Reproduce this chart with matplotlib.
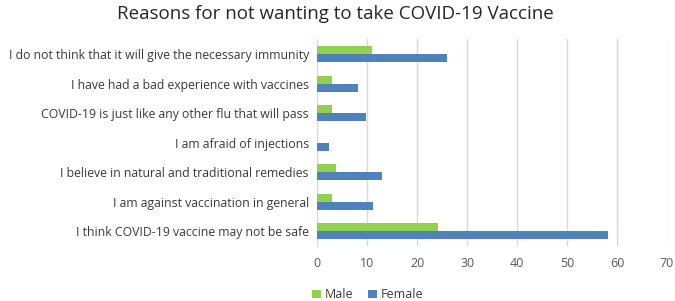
import matplotlib.pyplot as plt
import numpy as np

plt.rcParams['font.family'] = ['Open Sans', 'DejaVu Sans']

reasons = [
    'I think COVID-19 vaccine may not be safe',
    'I am against vaccination in general',
    'I believe in natural and traditional remedies',
    'I am afraid of injections',
    'COVID-19 is just like any other flu that will pass',
    'I have had a bad experience with vaccines',
    'I do not think that it will give the necessary immunity',
]
male = [24.2, 3.0, 3.7, 0.0, 3.0, 3.0, 10.9]
female = [58.2, 11.2, 12.9, 2.3, 9.7, 8.2, 26.0]
xticks = [0, 10, 20, 30, 40, 50, 60, 70]

green = '#92D050'
blue = '#4F81BD'
txt = '#595959'

fig = plt.figure(figsize=(6.75, 3.01), dpi=100)
ax = fig.add_axes([0.47, 0.183, 0.518, 0.686])

y = np.arange(len(reasons))
h = 0.27
ax.barh(y + h / 2, male, height=h, color=green, label='Male', zorder=3)
ax.barh(y - h / 2, female, height=h, color=blue, label='Female', zorder=3)

ax.set_xlim(0, 70)
ax.set_ylim(-0.5, len(reasons) - 0.5)
ax.set_xticks(xticks)
ax.set_yticks(y)
ax.set_yticklabels(reasons)
ax.tick_params(length=0, colors=txt, labelsize=9)
ax.tick_params(axis='y', labelcolor='#3A3A3A', labelsize=8.8, pad=6)
ax.tick_params(axis='x', pad=8)
ax.grid(axis='x', color='#D9D9D9', linewidth=1, zorder=0)
for s in ['top', 'right', 'bottom']:
    ax.spines[s].set_visible(False)
ax.spines['left'].set_color('#D9D9D9')

fig.text(0.497, 0.955, 'Reasons for not wanting to take COVID-19 Vaccine',
         ha='center', va='center', fontsize=13.5, color='#262626')
fig.legend(loc='center', bbox_to_anchor=(0.545, 0.02), ncol=2, frameon=False,
           fontsize=9, handlelength=0.7, handleheight=0.7, handletextpad=0.3,
           columnspacing=1.2, labelcolor='#3A3A3A')

fig.savefig('out.png', dpi=100)
